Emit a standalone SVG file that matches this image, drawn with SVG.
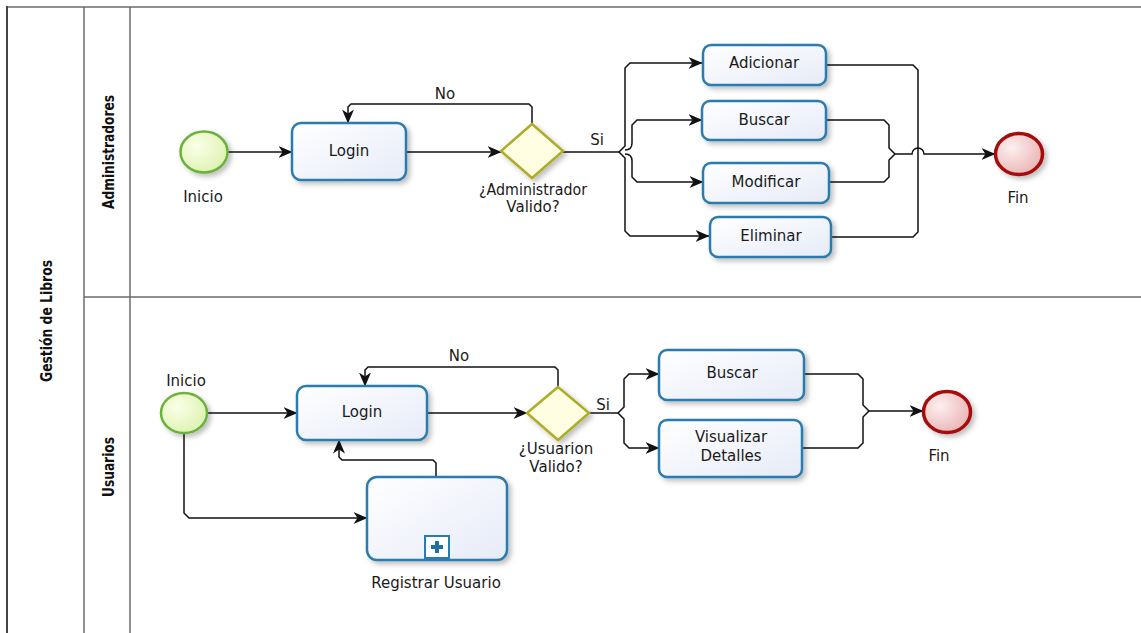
<svg xmlns="http://www.w3.org/2000/svg" width="1141" height="633" viewBox="0 0 1141 633">
<style>
.lane{stroke:#6b6b6b;stroke-width:1.5;fill:none}
.task{fill:url(#gTask);stroke:#2b7cae;stroke-width:2.5;filter:url(#sh)}
.start{fill:url(#gStart);stroke:#6bb23c;stroke-width:2.5;filter:url(#sh)}
.end{fill:url(#gEnd);stroke:#a50f0f;stroke-width:3.5;filter:url(#sh)}
.gw{fill:#fffde2;stroke:#adad2a;stroke-width:2.5;filter:url(#sh)}
.c{fill:none;stroke:#111;stroke-width:1.5}
.ca{fill:none;stroke:#111;stroke-width:1.5;marker-end:url(#arr)}
text{font-family:"DejaVu Sans","Liberation Sans",sans-serif;font-size:15px;fill:#1a1a1a;text-anchor:middle}
.hd{font-weight:bold;font-stretch:condensed;font-size:15px;fill:#111}
</style>
<defs>
<linearGradient id="gTask" x1="0" y1="0" x2="1" y2="1"><stop offset="0" stop-color="#ffffff"/><stop offset="1" stop-color="#e6ebf8"/></linearGradient>
<radialGradient id="gStart" cx="0.35" cy="0.35" r="0.75"><stop offset="0" stop-color="#fbffe8"/><stop offset="1" stop-color="#dcf1ae"/></radialGradient>
<radialGradient id="gEnd" cx="0.35" cy="0.35" r="0.75"><stop offset="0" stop-color="#fdf0f0"/><stop offset="1" stop-color="#eab0b0"/></radialGradient>
<filter id="sh" x="-20%" y="-20%" width="150%" height="150%"><feDropShadow dx="3" dy="3" stdDeviation="2.5" flood-color="#000" flood-opacity="0.25"/></filter>
<marker id="arr" viewBox="0 0 14 12" refX="13.5" refY="6" markerWidth="14" markerHeight="12" markerUnits="userSpaceOnUse" orient="auto"><path d="M0,0 L14,6 L0,12 L4,6 z" fill="#111"/></marker>
</defs>

<g id="pool">
<line class="lane" x1="7" y1="7" x2="1141" y2="7"/>
<line x1="7" y1="6" x2="7" y2="633" stroke="#444" stroke-width="2"/>
<line class="lane" x1="84" y1="7" x2="84" y2="633"/>
<line class="lane" x1="130" y1="7" x2="130" y2="633"/>
<line class="lane" x1="84" y1="297" x2="1141" y2="297"/>
<text class="hd" transform="translate(52,321) rotate(-90)" textLength="122" lengthAdjust="spacingAndGlyphs">Gestión de Libros</text>
<text class="hd" transform="translate(114,152) rotate(-90)" textLength="114" lengthAdjust="spacingAndGlyphs">Administradores</text>
<text class="hd" transform="translate(114,467) rotate(-90)" textLength="60" lengthAdjust="spacingAndGlyphs">Usuarios</text>
</g>

<g id="connectors">
<path class="ca" d="M228,152 H292"/>
<path class="ca" d="M407,152 H501"/>
<path class="ca" d="M532,124 V107 L529,104 H351 L348,107 V123"/>
<path class="c" d="M563,152 H619"/>
<path class="ca" d="M619,152 L625,146 V68 L630,63 H702"/>
<path class="ca" d="M619,152 L625,158 V231 L630,236 H709"/>
<path class="ca" d="M625,150 Q632,150 632,143 V125 L637,120 H702"/>
<path class="ca" d="M625,154 Q632,154 632,161 V177 L637,182 H703"/>
<path class="c" d="M826,65 H913 L918,70 V232 L913,237 H831"/>
<path class="c" d="M826,120 H884 L889,125 V148 L895,154"/>
<path class="c" d="M829,182 H884 L889,177 V160 L895,154"/>
<path class="ca" d="M895,154 H912 A6,6 0 0 1 924,154 H995"/>
<text x="445" y="99">No</text>
<text x="597" y="145">Si</text>
<path class="ca" d="M207,413 H297"/>
<path class="ca" d="M427,413 H527"/>
<path class="ca" d="M558,387 V370 L555,367 H368 L365,370 V386"/>
<path class="c" d="M589,413 H618"/>
<path class="ca" d="M618,413 L624,407 V379 L629,374 H659"/>
<path class="ca" d="M618,413 L624,419 V443 L629,448 H659"/>
<path class="c" d="M804,374 H858 L863,379 V405 L869,411"/>
<path class="c" d="M802,448 H858 L863,443 V417 L869,411"/>
<path class="ca" d="M869,411 H923"/>
<path class="ca" d="M184,434 V513 L189,518 H367"/>
<path class="ca" d="M436,477 V463 L433,460 H342 L339,457 V440"/>
<text x="459" y="361">No</text>
<text x="603" y="410">Si</text>
</g>

<g id="admin-inicio">
<ellipse class="start" cx="204" cy="152" rx="23.5" ry="20.5"/>
<text x="203" y="202">Inicio</text>
</g>
<g id="admin-login">
<rect class="task" x="292" y="123" width="114" height="57" rx="9"/>
<text x="349" y="156">Login</text>
</g>
<g id="admin-gateway">
<polygon class="gw" points="532,124 563,151 532,178 501,151"/>
<text x="533" y="195" textLength="108" lengthAdjust="spacingAndGlyphs">¿Administrador</text>
<text x="533" y="212">Valido?</text>
</g>
<g id="adicionar">
<rect class="task" x="703" y="45" width="123" height="40" rx="8"/>
<text x="764" y="68">Adicionar</text>
</g>
<g id="admin-buscar">
<rect class="task" x="702" y="101" width="124" height="39" rx="8"/>
<text x="764" y="125">Buscar</text>
</g>
<g id="modificar">
<rect class="task" x="703" y="163" width="126" height="40" rx="8"/>
<text x="766" y="187">Modificar</text>
</g>
<g id="eliminar">
<rect class="task" x="710" y="217" width="121" height="40" rx="8"/>
<text x="771" y="241">Eliminar</text>
</g>
<g id="admin-fin">
<ellipse class="end" cx="1019" cy="154" rx="23.5" ry="20.5"/>
<text x="1018" y="203">Fin</text>
</g>

<g id="user-inicio">
<ellipse class="start" cx="184" cy="413" rx="23" ry="20"/>
<text x="186" y="386">Inicio</text>
</g>
<g id="user-login">
<rect class="task" x="297" y="386" width="130" height="54" rx="9"/>
<text x="362" y="417">Login</text>
</g>
<g id="user-gateway">
<polygon class="gw" points="558,387 589,413 558,440 527,413"/>
<text x="556" y="454">¿Usuarion</text>
<text x="556" y="472">Valido?</text>
</g>
<g id="user-buscar">
<rect class="task" x="659" y="350" width="145" height="50" rx="8"/>
<text x="732" y="378">Buscar</text>
</g>
<g id="visualizar">
<rect class="task" x="659" y="420" width="143" height="57" rx="8"/>
<text x="731" y="442">Visualizar</text>
<text x="731" y="461">Detalles</text>
</g>
<g id="user-fin">
<ellipse class="end" cx="947" cy="412" rx="23.5" ry="20.5"/>
<text x="939" y="461">Fin</text>
</g>
<g id="registrar">
<rect class="task" x="367" y="477" width="140" height="83" rx="10"/>
<rect x="425" y="536" width="24" height="22" fill="#ffffff" stroke="#2b7cae" stroke-width="2"/>
<path d="M437,541 V553 M431,547 H443" stroke="#1f6f9f" stroke-width="4"/>
<text x="436" y="588">Registrar Usuario</text>
</g>
</svg>
